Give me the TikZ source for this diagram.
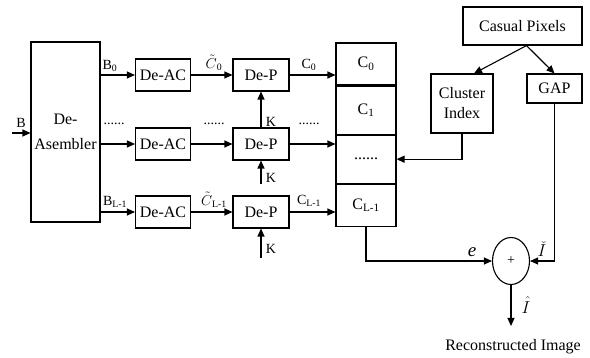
\documentclass[tikz,border=0pt]{standalone}
\usepackage{fontspec}
\setmainfont{Liberation Serif}
\usetikzlibrary{positioning,arrows.meta,shapes.geometric}

\begin{document}
\begin{tikzpicture}[
    x=1pt, y=-1pt,
    font=\fontsize{16}{18}\selectfont,
    line width=1.1pt,
    >={Triangle[length=8pt,width=7pt]},
    box/.style={draw, inner sep=1pt, align=center},
    acbox/.style={box, minimum width=55, minimum height=32},
    pbox/.style={acbox, minimum width=56},
    cell/.style={box, minimum width=60},
    lbl/.style={inner sep=0pt, font=\fontsize{14}{16}\selectfont},
    sym/.style={inner sep=0pt, font=\fontsize{19}{21}\selectfont}
]
\useasboundingbox (0,0) rectangle (590,358);

\node[box, minimum width=69, minimum height=180, font=\fontsize{16}{25}\selectfont] (dasm) at (65.5,132) {De-\\Asembler};
\coordinate (bin) at (12,133);

\node[acbox] (ac0) at (163,75) {De-AC};
\node[acbox] (ac1) at (163,144) {De-AC};
\node[acbox] (acL) at (163,212) {De-AC};
\node[pbox] (dp0) at (261,75) {De-P};
\node[pbox] (dp1) at (261,144) {De-P};
\node[pbox] (dpL) at (261,212) {De-P};

\node[cell, minimum height=42] (c0) at (366,64) {C\textsubscript{0}};
\node[cell, minimum height=48, below=0pt of c0] (c1) {C\textsubscript{1}};
\node[cell, minimum height=48, below=0pt of c1] (cdots) {......};
\node[cell, minimum height=42, below=0pt of cdots] (cL) {C\textsubscript{L-1}};

\node[box, minimum width=119, minimum height=38] (casual) at (522.5,26) {Casual Pixels};
\node[box, minimum width=62, minimum height=59, font=\fontsize{16}{20}\selectfont] (cluster) at (462,103.5) {Cluster\\Index};
\node[box, minimum width=55, minimum height=29] (gap) at (554.5,88.5) {GAP};

\node[draw, ellipse, minimum width=37, minimum height=47, inner sep=0pt, font=\fontsize{14}{16}\selectfont] (sum) at (511,261) {+};
\coordinate (out) at (511,326);
\node (recon) at (513,347) {Reconstructed Image};

% labels
\node[lbl] (lb) at (21,123) {B};
\node[lbl] (lb0) at (110,66) {B\textsubscript{0}};
\node[lbl] (lb1) at (114,124) {......};
\node[lbl] (lbL) at (115,202) {B\textsubscript{L-1}};
\node[lbl] (lt0) at (214,63) {$\tilde{C}$\textsubscript{0}};
\node[lbl] (lt1) at (214,124) {......};
\node[lbl] (ltL) at (214,200) {$\tilde{C}$\textsubscript{L-1}};
\node[lbl] (lc0) at (309,65) {C\textsubscript{0}};
\node[lbl] (lc1) at (309,124) {......};
\node[lbl] (lcL) at (309,201) {C\textsubscript{L-1}};
\node[lbl] (k0) at (271,122) {K};
\node[lbl] (k1) at (271,178) {K};
\node[lbl] (kL) at (271,249) {K};
\node[sym] (le) at (472,252) {\textit{e}};
\node[sym] (lcheck) at (542,249) {$\check{I}$};
\node[sym] (lhat) at (526,305) {$\hat{I}$};

\draw[->] (bin) -- (bin -| dasm.west);
\draw[->] (dasm.east |- ac0) -- (ac0);
\draw[->] (dasm.east |- ac1) -- (ac1);
\draw[->] (dasm.east |- acL) -- (acL);
\draw[->] (ac0) -- (dp0);
\draw[->] (ac1) -- (dp1);
\draw[->] (acL) -- (dpL);
\draw[->] (dp0) -- (dp0 -| c0.west);
\draw[->] (dp1) -- (dp1 -| c0.west);
\draw[->] (dpL) -- (dpL -| c0.west);
\draw[->] (dp1.north) -- (dp0.south);
\draw[->] (261,184) -- (dp1.south);
\draw[->] (261,258) -- (dpL.south);

\draw[->] ([xshift=4pt]casual.south) -- ([xshift=12pt]cluster.north);
\draw[->] ([xshift=4pt]casual.south) -- (gap.north);
\draw[->] (cluster.south) |- (cdots.east);
\draw[->] (gap.south) |- (sum.east);
\draw[->] (cL.south) |- (sum.west);
\draw[->] (sum.south) -- (out);
\end{tikzpicture}
\end{document}
